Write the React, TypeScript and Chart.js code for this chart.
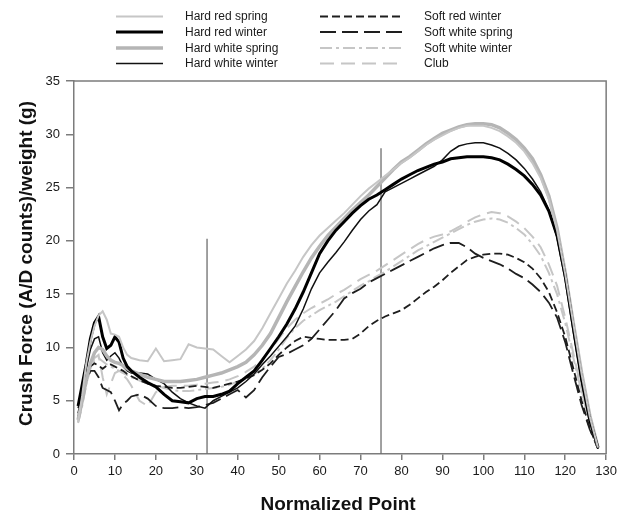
import React, { useEffect, useRef } from "react";
import { Chart, registerables } from "chart.js";

Chart.register(...registerables);

// Normalized point positions (x) shared by all series
const points = [
  1, 2, 3, 4, 5, 6, 7, 8, 9, 10, 11, 12, 13, 14,
  16, 18, 20, 22, 24, 26, 28, 30,
  32, 34, 36, 38, 40, 42, 44, 46,
  48, 50, 52, 54, 56, 58, 60, 62,
  64, 66, 68, 70, 72, 74, 76, 78,
  80, 82, 84, 86, 88, 90, 92, 94,
  96, 98, 100, 102, 104, 106, 108, 110,
  112, 114, 116, 118, 120, 122, 124, 126,
  128,
];

const hardRedSpring = [
  3.0, 5.5, 8.5, 10.5, 12.0, 13.0, 13.4, 12.6, 11.3, 11.2, 11.0, 10.0, 9.3, 9.0,
  8.8, 8.7, 9.9, 8.7, 8.8, 8.9, 10.3, 10.0,
  9.9, 9.8, 9.2, 8.6, 9.2, 9.8, 10.6, 11.8,
  13.2, 14.6, 16.0, 17.2, 18.5, 19.6, 20.5, 21.2,
  21.9, 22.6, 23.4, 24.2, 24.9, 25.5, 26.1, 26.7,
  27.3, 27.8, 28.4, 29.0, 29.5, 29.9, 30.3, 30.6,
  30.8, 30.8, 30.8, 30.6, 30.3, 29.8, 29.2, 28.4,
  27.3, 25.9, 23.9, 21.0, 16.9, 12.2, 7.5, 3.5,
  0.6,
];

const hardRedWinter = [
  4.5, 6.5, 8.5, 10.8, 12.3, 12.9, 11.0, 9.9, 10.2, 11.0, 10.5, 9.0, 8.2, 7.8,
  7.2, 6.7, 6.3, 5.6, 5.0, 4.9, 4.8, 5.2,
  5.4, 5.4, 5.6, 5.9, 6.6, 7.2, 7.8, 8.8,
  9.9, 11.0, 12.2, 13.6, 15.2, 17.0, 18.8, 20.0,
  21.0, 21.8, 22.6, 23.3, 23.9, 24.3, 24.8, 25.3,
  25.8, 26.2, 26.6, 26.9, 27.2, 27.4, 27.7, 27.8,
  27.9, 27.9, 27.9, 27.8, 27.6, 27.2, 26.7, 26.1,
  25.3, 24.3, 22.8, 20.5, 16.7, 11.8, 7.0, 3.2,
  0.6,
];

const hardWhiteSpring = [
  3.2, 5.0, 7.0, 8.5, 9.5, 10.0, 9.8, 9.2, 8.8, 8.6, 8.5, 8.3, 8.0, 7.8,
  7.5, 7.2, 7.0, 6.8, 6.8, 6.8, 6.9, 7.0,
  7.2, 7.4, 7.6, 7.9, 8.2, 8.6, 9.3, 10.2,
  11.3, 12.8, 14.3, 15.7, 17.1, 18.4, 19.5, 20.5,
  21.3, 22.1, 22.9, 23.6, 24.3, 25.1, 25.9, 26.7,
  27.4, 27.9, 28.5, 29.1, 29.6, 30.1, 30.4, 30.7,
  30.9, 31.0, 31.0, 30.9, 30.6, 30.1, 29.5, 28.7,
  27.7, 26.2, 24.2, 21.2, 17.0, 12.2, 7.6, 3.6,
  0.6,
];

const hardWhiteWinter = [
  4.3, 6.0, 8.0, 9.8, 10.8, 11.0, 9.5, 8.8, 9.2, 9.5, 9.0, 8.2, 7.8, 7.6,
  7.6, 7.5, 7.0, 6.6, 5.8, 5.2, 4.8, 4.5,
  4.3, 5.0, 5.4, 5.8, 6.2, 6.8, 7.5, 8.4,
  9.2, 10.1, 11.0, 12.0, 13.6, 15.5, 17.0, 18.0,
  18.9, 19.9, 21.0, 22.0, 22.8, 23.4, 24.6, 25.0,
  25.4, 25.8, 26.2, 26.6, 27.0, 27.6, 28.4, 28.9,
  29.1, 29.2, 29.2, 29.0, 28.7, 28.2, 27.6, 26.8,
  25.8, 24.6, 22.9, 20.3, 16.3, 11.4, 6.8, 3.0,
  0.5,
];

const softRedWinter = [
  3.8, 5.5, 7.0, 8.2, 8.5, 8.3, 8.0, 8.3, 8.4, 8.2, 8.0, 7.8, 7.5, 7.3,
  6.9, 6.6, 6.4, 6.3, 6.2, 6.2, 6.3, 6.4,
  6.3, 6.2, 6.4, 6.6, 6.8, 7.1, 7.4, 7.9,
  8.5, 9.3, 10.0, 10.6, 11.0, 10.9, 10.8, 10.7,
  10.7, 10.7, 10.8, 11.3, 12.0, 12.5, 12.9, 13.2,
  13.5, 14.0, 14.6, 15.2, 15.7, 16.3, 17.0, 17.6,
  18.2, 18.5, 18.7, 18.8, 18.8, 18.7, 18.4, 18.0,
  17.4, 16.5, 15.2, 13.3, 11.0, 8.0, 5.0, 2.4,
  0.5,
];

const softWhiteSpring = [
  3.5, 5.0, 6.8, 7.8, 7.8, 7.2, 6.2, 6.0, 5.8, 5.0, 4.1, 4.7, 5.0, 5.4,
  5.6, 5.2, 4.5, 4.3, 4.3, 4.4, 4.3, 4.4,
  4.6, 4.8, 5.2, 5.6, 6.0, 5.3, 6.0, 7.2,
  8.2, 9.1, 9.4, 9.8, 10.2, 10.8, 11.7, 12.6,
  13.5, 14.6, 15.1, 15.5, 16.1, 16.5, 16.9, 17.3,
  17.7, 18.1, 18.5, 18.9, 19.3, 19.6, 19.8, 19.8,
  19.4, 18.8, 18.4, 18.1, 17.8, 17.4, 16.9, 16.5,
  15.9, 15.2, 14.2, 12.8, 10.5, 7.5, 4.6, 2.3,
  0.5,
];

const softWhiteWinter = [
  2.9, 4.5, 6.5, 8.0, 8.8, 9.0, 8.7, 8.4, 8.2, 8.0, 7.8, 7.6, 7.4, 7.2,
  6.9, 6.6, 6.4, 6.2, 6.0, 5.9, 5.9, 6.0,
  6.1, 6.2, 6.3, 6.5, 6.8, 7.1, 7.5, 8.0,
  8.8, 9.8, 10.9, 11.8, 12.5, 13.0, 13.5, 13.9,
  14.3, 14.8, 15.3, 15.8, 16.2, 16.7, 17.1, 17.6,
  18.1, 18.6, 19.1, 19.5, 19.9, 20.3, 20.7, 21.1,
  21.5, 21.8, 22.0, 22.1, 22.0, 21.7, 21.2, 20.6,
  19.7, 18.6, 17.0, 15.0, 12.3, 9.0, 5.8, 3.0,
  0.6,
];

const club = [
  3.0, 4.8, 6.5, 8.2, 9.0, 9.3, 7.2, 5.6, 6.6, 7.6, 7.8, 7.4, 7.0, 6.4,
  5.0, 4.5, 5.8, 6.3, 6.4, 6.4, 6.4, 6.5,
  6.6, 6.7, 6.8, 7.0, 7.3, 7.7, 8.2, 8.9,
  9.8, 10.8, 11.8, 12.6, 13.2, 13.7, 14.1, 14.5,
  15.0, 15.4, 15.9, 16.4, 16.8, 17.2, 17.7, 18.2,
  18.7, 19.2, 19.7, 20.1, 20.4, 20.6, 20.9, 21.3,
  21.8, 22.2, 22.5, 22.7, 22.6, 22.3, 21.8, 21.2,
  20.4, 19.4, 17.8, 15.8, 12.8, 9.4, 6.0, 3.0,
  0.6,
];

// Vertical marker lines
const markerX = [32.5, 75];
const markerTop = [20.2, 28.7];

const xTicks = { min: 0, max: 130, step: 10 };
const yTicks = { min: 0, max: 35, step: 5 };

const seriesNames = [
  "Hard red spring",
  "Hard red winter",
  "Hard white spring",
  "Hard white winter",
  "Soft red winter",
  "Soft white spring",
  "Soft white winter",
  "Club",
];
const seriesValues = [
  hardRedSpring,
  hardRedWinter,
  hardWhiteSpring,
  hardWhiteWinter,
  softRedWinter,
  softWhiteSpring,
  softWhiteWinter,
  club,
];
const seriesStyles = [
  { color: "#c6c6c6", width: 2, dash: [] as number[] },
  { color: "#000000", width: 3, dash: [] as number[] },
  { color: "#b5b5b5", width: 3.5, dash: [] as number[] },
  { color: "#111111", width: 1.5, dash: [] as number[] },
  { color: "#1e1e1e", width: 1.8, dash: [8, 4] },
  { color: "#1e1e1e", width: 1.8, dash: [16, 6] },
  { color: "#c6c6c6", width: 2, dash: [12, 4, 3, 4] },
  { color: "#c6c6c6", width: 2, dash: [14, 7] },
];

const FONT = "'Liberation Sans', Arial, Helvetica, sans-serif";
const AXIS_COLOR = "#7c7c7c";

const decorPlugin = {
  id: "decor",
  afterDraw(chart: any) {
    const ctx = chart.ctx;
    const a = chart.chartArea;
    ctx.save();
    // frame (top + right)
    ctx.strokeStyle = AXIS_COLOR;
    ctx.lineWidth = 1.5;
    ctx.beginPath();
    ctx.moveTo(a.left, a.top);
    ctx.lineTo(a.right, a.top);
    ctx.lineTo(a.right, a.bottom);
    ctx.stroke();

    // axis titles
    ctx.fillStyle = "#111";
    ctx.font = `bold 19px ${FONT}`;
    ctx.textAlign = "center";
    ctx.textBaseline = "middle";
    ctx.fillText("Normalized Point", (a.left + a.right) / 2 - 2, 505);
    ctx.save();
    ctx.translate(27, (a.top + a.bottom) / 2 - 4);
    ctx.rotate(-Math.PI / 2);
    ctx.fillText("Crush Force (A/D counts)/weight (g)", 0, 0);
    ctx.restore();

    // legend
    const rows = [16.5, 32, 48, 63.5];
    const cols = [
      { x1: 116, x2: 163, tx: 185 },
      { x1: 320, x2: 403, tx: 424 },
    ];
    ctx.font = `12px ${FONT}`;
    ctx.textAlign = "left";
    seriesNames.forEach((name, i) => {
      const c = cols[Math.floor(i / 4)];
      const y = rows[i % 4];
      const s = seriesStyles[i];
      ctx.save();
      ctx.strokeStyle = s.color;
      ctx.lineWidth = s.width;
      ctx.setLineDash(s.dash);
      ctx.beginPath();
      ctx.moveTo(c.x1, y);
      ctx.lineTo(c.x2, y);
      ctx.stroke();
      ctx.restore();
      ctx.fillStyle = "#1a1a1a";
      ctx.fillText(name, c.tx, y + 0.5);
    });
    ctx.restore();
  },
};

export default function App() {
  const ref = useRef<HTMLCanvasElement | null>(null);
  useEffect(() => {
    if (!ref.current) return;
    const datasets: any[] = seriesNames.map((name, i) => ({
      label: name,
      data: points.map((x, j) => ({ x, y: seriesValues[i][j] })),
      borderColor: seriesStyles[i].color,
      borderWidth: seriesStyles[i].width,
      borderDash: seriesStyles[i].dash,
      pointRadius: 0,
      tension: 0,
      fill: false,
    }));
    markerX.forEach((mx, i) => {
      datasets.push({
        label: "marker" + i,
        data: [
          { x: mx, y: 0 },
          { x: mx, y: markerTop[i] },
        ],
        borderColor: "#6e6e6e",
        borderWidth: 1.3,
        pointRadius: 0,
        fill: false,
      });
    });
    const chart = new Chart(ref.current, {
      type: "line",
      data: { datasets },
      options: {
        responsive: false,
        animation: false,
        layout: { padding: { top: 81, right: 14, left: 0, bottom: 0 } },
        plugins: { legend: { display: false }, tooltip: { enabled: false } },
        scales: {
          x: {
            type: "linear",
            min: xTicks.min,
            max: xTicks.max,
            afterFit: (s: any) => {
              s.height = 63;
            },
            ticks: {
              stepSize: xTicks.step,
              color: "#1a1a1a",
              font: { family: FONT, size: 13 },
              padding: 4,
              maxRotation: 0,
            },
            grid: {
              drawOnChartArea: false,
              drawTicks: true,
              tickLength: 6,
              color: AXIS_COLOR,
              lineWidth: 1.5,
            },
            border: { display: true, color: AXIS_COLOR, width: 1.5 },
          },
          y: {
            type: "linear",
            min: yTicks.min,
            max: yTicks.max,
            afterFit: (s: any) => {
              s.width = 74;
            },
            ticks: {
              stepSize: yTicks.step,
              color: "#1a1a1a",
              font: { family: FONT, size: 13 },
              padding: 6,
            },
            grid: {
              drawOnChartArea: false,
              drawTicks: true,
              tickLength: 8,
              color: AXIS_COLOR,
              lineWidth: 1.5,
            },
            border: { display: true, color: AXIS_COLOR, width: 1.5 },
          },
        },
      },
      plugins: [decorPlugin],
    });
    return () => chart.destroy();
  }, []);
  return (
    <div style={{ position: "fixed", left: 0, top: 0, width: 621, height: 517, background: "#fff" }}>
      <canvas ref={ref} width={621} height={517} style={{ display: "block" }} />
    </div>
  );
}
